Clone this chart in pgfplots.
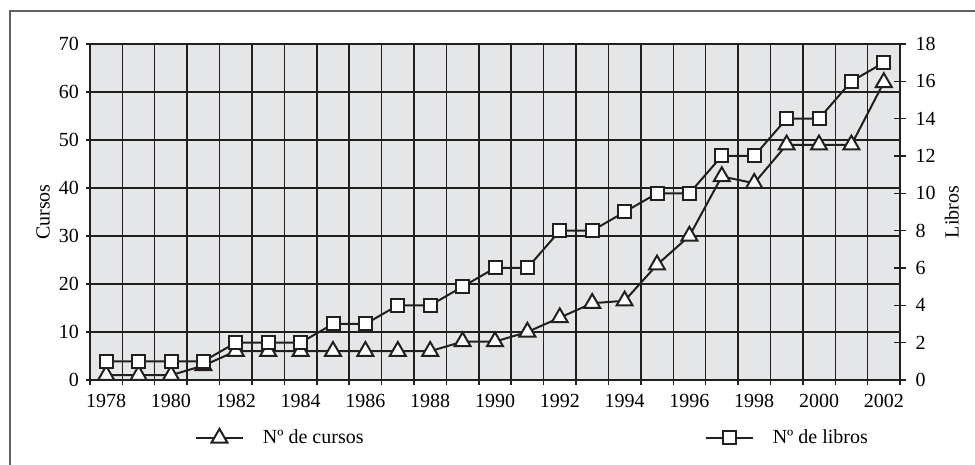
\documentclass[border=0pt]{standalone}
\usepackage{fontspec}
\setmainfont{Liberation Serif}
\usepackage{pgfplots}
\pgfplotsset{compat=1.18}
\definecolor{ink}{HTML}{231F20}
\definecolor{bgfill}{HTML}{E5E6E8}
\definecolor{framegray}{HTML}{606060}
\begin{document}
\begin{tikzpicture}[font=\fontsize{10bp}{12bp}\selectfont]
\useasboundingbox (-45bp,-42.5bp) rectangle (442.5bp,190bp);
\draw[framegray, line width=0.7bp] (-40bp,-80bp) rectangle (480bp,184.5bp);
\pgfplotsset{
  common/.style={
    at={(0,0)}, anchor=south west,
    scale only axis, width=405bp, height=168bp,
    xmin=1977.5, xmax=2002.5,
    /pgf/number format/.cd, 1000 sep={}, assume math mode=true, /pgfplots/.cd,
    axis line style={ink, line width=0.7bp},
    legend image code/.code={\draw[mark repeat=2,mark phase=2] plot coordinates {(0bp,0bp) (11.75bp,0bp) (23.5bp,0bp)};},
    legend style={draw=none, fill=none, inner sep=0pt, outer sep=0pt, column sep=9.5bp,
      nodes={inner sep=0pt, anchor=west}},
  }
}
\begin{axis}[common,
  ymin=0, ymax=70, ytick={0,10,...,70},
  scaled x ticks=false,
  xtick={1978,1980,...,2002},
  minor xtick={1977.5,1978.5,...,2002.5},
  xtick pos=left, ytick pos=left,
  tick align=outside,
  major tick length=2bp, minor tick length=2.5bp,
  major x tick style={draw=none},
  minor x tick style={ink, line width=0.7bp},
  major y tick style={ink, line width=0.7bp},
  xminorgrids=true, xmajorgrids=false, ymajorgrids=true,
  grid style={ink, line width=0.7bp},
  minor grid style={ink, line width=0.7bp},
  axis background/.style={fill=bgfill},
  xticklabel style={yshift=-1.5bp},
  ylabel={Cursos},
  ylabel style={at={(axis description cs:-0.058,0.5)}, anchor=center, rotate=0},
  legend style={at={(axis description cs:0.1296,-0.1717)}, anchor=west},
]
\addplot[ink, line width=1bp, mark=triangle*, mark size=4.6bp,
  mark options={fill=white, draw=ink, line width=1bp, solid}]
  coordinates {
  (1978,1) (1979,1) (1980,1) (1981,3) (1982,6) (1983,6) (1984,6) (1985,6)
  (1986,6) (1987,6) (1988,6) (1989,8) (1990,8) (1991,10) (1992,13) (1993,16)
  (1994,16.5) (1995,24) (1996,30) (1997,42.4) (1998,41) (1999,49) (2000,49)
  (2001,49) (2002,62)
  };
\addlegendentry{Nº de cursos}
\end{axis}
\begin{axis}[common,
  ymin=0, ymax=18, ytick={0,2,...,18},
  axis y line*=right, axis x line=none,
  tick align=center, major tick length=6.5bp,
  major y tick style={ink, line width=0.7bp},
  yticklabel style={xshift=1bp},
  ylabel={Libros},
  ylabel style={at={(axis description cs:1.064,0.5)}, anchor=center, rotate=0},
  legend style={at={(axis description cs:0.759,-0.1717)}, anchor=west},
]
\addplot[ink, line width=1bp, mark=square*, mark size=3.25bp,
  mark options={fill=white, draw=ink, line width=1bp, solid}]
  coordinates {
  (1978,1) (1979,1) (1980,1) (1981,1) (1982,2) (1983,2) (1984,2) (1985,3)
  (1986,3) (1987,4) (1988,4) (1989,5) (1990,6) (1991,6) (1992,8) (1993,8)
  (1994,9) (1995,10) (1996,10) (1997,12) (1998,12) (1999,14) (2000,14)
  (2001,16) (2002,17)
  };
\addlegendentry{Nº de libros}
\end{axis}
\end{tikzpicture}
\end{document}
